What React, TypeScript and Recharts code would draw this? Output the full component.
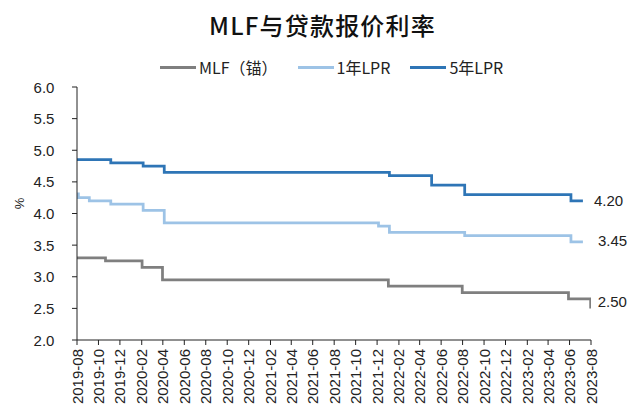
import { LineChart, Line, XAxis, YAxis, LabelList } from "recharts";

// 数据：各利率的调整日期与取值（阶梯）
const mlfDates = ["2019-08-16", "2019-11-05", "2020-02-17", "2020-04-15", "2022-01-17", "2022-08-15", "2023-06-13", "2023-08-15"];
const mlfValues = [3.3, 3.25, 3.15, 2.95, 2.85, 2.75, 2.65, 2.5];

const lpr1Dates = ["2019-08-16", "2019-08-20", "2019-09-20", "2019-11-20", "2020-02-20", "2020-04-20", "2021-12-20", "2022-01-20", "2022-08-22", "2023-06-20", "2023-07-24"];
const lpr1Values = [4.31, 4.25, 4.2, 4.15, 4.05, 3.85, 3.8, 3.7, 3.65, 3.55, 3.55];

const lpr5Dates = ["2019-08-16", "2019-11-20", "2020-02-20", "2020-04-20", "2022-01-20", "2022-05-20", "2022-08-22", "2023-06-20", "2023-07-24"];
const lpr5Values = [4.85, 4.8, 4.75, 4.65, 4.6, 4.45, 4.3, 4.2, 4.2];

const seriesNames = ["MLF（锚）", "1年LPR", "5年LPR"];
const seriesColors = ["#7f7f7f", "#9dc3e6", "#2e75b6"];
const endLabels = ["2.50", "3.45", "4.20"];

const xTickLabels = [
  "2019-08", "2019-10", "2019-12", "2020-02", "2020-04", "2020-06", "2020-08", "2020-10", "2020-12",
  "2021-02", "2021-04", "2021-06", "2021-08", "2021-10", "2021-12", "2022-02", "2022-04", "2022-06",
  "2022-08", "2022-10", "2022-12", "2023-02", "2023-04", "2023-06", "2023-08",
];
const yTicks = [2.0, 2.5, 3.0, 3.5, 4.0, 4.5, 5.0, 5.5, 6.0];

const toTs = (s: string) => {
  const [y, m, d] = s.split("-").map(Number);
  return Date.UTC(y, m - 1, d || 16);
};

const build = (dates: string[], values: number[], label: string) =>
  dates.map((d, i) => ({
    t: toTs(d),
    v: values[i],
    lbl: i === dates.length - 1 ? label : null,
  }));

const mlfData = build(mlfDates, mlfValues, endLabels[0]);
const lpr1Data = build(lpr1Dates, lpr1Values, endLabels[1]);
const lpr5Data = build(lpr5Dates, lpr5Values, endLabels[2]);

const xTicks = xTickLabels.map((s) => toTs(s));
const xDomain = [xTicks[0], xTicks[xTicks.length - 1]];

const FONT = "'Liberation Sans', Arial, sans-serif";
const CJK = "'Noto Sans CJK SC', sans-serif";

const XTick = (p: any) => {
  const idx = xTicks.indexOf(p.payload.value);
  return (
    <text
      x={p.x}
      y={p.y}
      transform={`rotate(-90, ${p.x}, ${p.y})`}
      textAnchor="end"
      dominantBaseline="central"
      fontSize={15}
      fontFamily={FONT}
      fill="#222"
    >
      {xTickLabels[idx]}
    </text>
  );
};

const YTick = (p: any) => (
  <text x={p.x - 28} y={p.y} textAnchor="middle" dominantBaseline="central" fontSize={15} fontFamily={FONT} fill="#222">
    {Number(p.payload.value).toFixed(1)}
  </text>
);

const endLabel = (dx: number, dy: number) => (p: any) => {
  if (p.value === null || p.value === undefined) return null;
  const x = p.x ?? p.viewBox?.x;
  const y = p.y ?? p.viewBox?.y;
  return (
    <text x={x + dx} y={y + dy} dominantBaseline="central" fontSize={15} fontFamily={FONT} fill="#222">
      {p.value}
    </text>
  );
};

export default function App() {
  return (
    <div style={{ position: "absolute", left: 0, top: 0, width: 632, height: 408, background: "#fff" }}>
      <div
        style={{
          position: "absolute",
          top: 10,
          left: 0,
          width: 632,
          paddingLeft: 13,
          boxSizing: "border-box",
          textAlign: "center",
          fontFamily: CJK,
          fontSize: 24,
          fontWeight: 500,
          letterSpacing: 1.2,
          color: "#111",
          lineHeight: "30px",
        }}
      >
        MLF与贷款报价利率
      </div>

      <div
        style={{
          position: "absolute",
          top: 57,
          left: 160,
          display: "flex",
          alignItems: "center",
          fontFamily: CJK,
          fontSize: 16,
          color: "#222",
          lineHeight: "20px",
        }}
      >
        {seriesNames.map((n, i) => (
          <div key={n} style={{ display: "flex", alignItems: "center", marginRight: 20 }}>
            <span style={{ display: "inline-block", width: 36, height: 3, background: seriesColors[i], marginRight: 3 }} />
            <span>{n}</span>
          </div>
        ))}
      </div>

      <div
        style={{
          position: "absolute",
          left: 14,
          top: 196,
          fontFamily: FONT,
          fontSize: 13,
          color: "#222",
          transform: "rotate(-90deg)",
        }}
      >
        %
      </div>

      <div style={{ position: "absolute", left: 0, top: 0 }}>
        <LineChart width={632} height={408} margin={{ top: 87, right: 41, bottom: 0, left: 0 }}>
          <XAxis
            type="number"
            dataKey="t"
            domain={xDomain}
            ticks={xTicks}
            interval={0}
            height={68}
            tickSize={5}
            tickMargin={4}
            stroke="#222"
            tick={<XTick />}
            allowDataOverflow
          />
          <YAxis
            type="number"
            domain={[2, 6]}
            ticks={yTicks}
            interval={0}
            width={77}
            tickSize={5}
            tickMargin={0}
            stroke="#222"
            tick={<YTick />}
          />
          <Line data={mlfData} dataKey="v" type="stepAfter" stroke={seriesColors[0]} strokeWidth={2.75} dot={false} isAnimationActive={false}>
            <LabelList dataKey="lbl" content={endLabel(7, -7)} />
          </Line>
          <Line data={lpr1Data} dataKey="v" type="stepAfter" stroke={seriesColors[1]} strokeWidth={2.75} dot={false} isAnimationActive={false}>
            <LabelList dataKey="lbl" content={endLabel(15, -1)} />
          </Line>
          <Line data={lpr5Data} dataKey="v" type="stepAfter" stroke={seriesColors[2]} strokeWidth={2.75} dot={false} isAnimationActive={false}>
            <LabelList dataKey="lbl" content={endLabel(11, 0)} />
          </Line>
        </LineChart>
      </div>
    </div>
  );
}
